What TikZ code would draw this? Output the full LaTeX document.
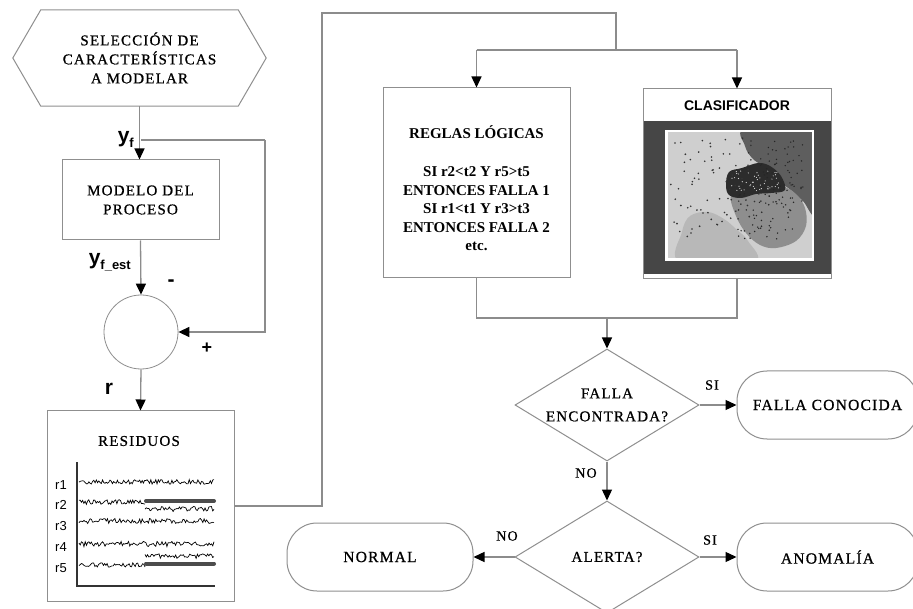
\documentclass[tikz,border=0pt]{standalone}
\usepackage{fontspec}
\setmainfont{Liberation Serif}
\setsansfont{Liberation Sans}
\newfontfamily\spc[LetterSpace=8,FakeBold=0.8]{Liberation Serif}
\usetikzlibrary{arrows.meta,shapes.geometric,calc}
\definecolor{ln}{HTML}{8C8C8C}
\definecolor{bd}{HTML}{8F8F8F}
\definecolor{darkbg}{HTML}{464646}
\definecolor{imgbg}{HTML}{CFCFCF}
\definecolor{regA}{HTML}{5E5E5E}
\definecolor{regB}{HTML}{2C2C2C}
\definecolor{regC}{HTML}{8E8E8E}
\definecolor{regD}{HTML}{B8B8B8}
\begin{document}
\begin{tikzpicture}[x=1pt,y=-1pt,
  line/.style={draw=ln,line width=1.3pt},
  arr/.style={line,-{Triangle[length=11pt,width=10pt,color=black]}},
  box/.style={draw=bd,line width=1pt,fill=white,inner sep=0pt,align=center},
  txt/.style={font=\spc\fontsize{15}{19}\selectfont,text=black,align=center,inner sep=0pt},
  rtxt/.style={font=\bfseries\fontsize{15}{18.5}\selectfont,text=black,align=center,inner sep=0pt},
  term/.style={box,rounded corners=30pt,minimum height=68pt,font=\spc\fontsize{15.5}{19}\selectfont},
  dia/.style={diamond,draw=bd,line width=1pt,fill=white,inner sep=0pt,aspect=1.64,
     minimum width=184pt,minimum height=112pt,align=center,font=\spc\fontsize{15}{23}\selectfont},
  lab/.style={font=\sffamily\bfseries\fontsize{21}{21}\selectfont,inner sep=0pt},
  yn/.style={font=\spc\fontsize{14}{14}\selectfont,inner sep=0pt},
  sig/.style={draw=black,line width=0.7pt},
  bar/.style={draw=black!70,line width=4pt,line cap=round}
]
\useasboundingbox (0,0) rectangle (913,609);
\fill[white] (0,0) rectangle (913,609);

% ---------- left column ----------
\node[txt,minimum width=253pt,minimum height=96pt] (hex) at (139.5,58) {SELECCIÓN DE\\CARACTERÍSTICAS\\A MODELAR};
\draw[bd,line width=1pt] (hex.west) -- ([xshift=28pt]hex.north west) -- ([xshift=-28pt]hex.north east)
  -- (hex.east) -- ([xshift=-28pt]hex.south east) -- ([xshift=28pt]hex.south west) -- cycle;

\node[box,minimum width=157pt,minimum height=80pt,font=\spc\fontsize{15}{19}\selectfont] (modelo) at (140.5,200) {MODELO DEL\\PROCESO};
\node[circle,draw=bd,line width=0.8pt,fill=white,minimum size=74pt,inner sep=0pt] (sum) at (141,332) {};
\node[box,minimum width=187pt,minimum height=190pt] (res) at (140.5,506) {};

\coordinate (fb) at (141,140);
\coordinate (fbR) at (265,140);
\draw[arr] (hex.south) -- (hex.south |- modelo.north);
\draw[line] (fb) -- (fbR);
\draw[arr] (fbR) |- (sum.east);
\draw[arr] (modelo.south) -- (sum.north);
\draw[arr] (sum.south) -- (res.north);

\node[lab,anchor=east] at (134,139) {y\raisebox{-5pt}{\fontsize{13}{13}\selectfont f}};
\node[lab,anchor=east] at (131,262) {y\raisebox{-5pt}{\fontsize{13}{13}\selectfont f\_est}};
\node[lab] at (171,283) {-};
\node[lab,font=\sffamily\bfseries\fontsize{18}{18}\selectfont] at (207,348) {+};
\node[lab] at (109,389) {r};

% residuos content
\node[txt] (restit) at (139,441) {RESIDUOS};
\draw[black!80,line width=1.3pt] (77,462) -- (77,586) -- (215,586);
\foreach \n/\yy in {1/485,2/505,3/526,4/547,5/568}
  \node[font=\sffamily\fontsize{13}{13}\selectfont,inner sep=0pt] at (61,\yy) {r\n};
\pgfmathsetseed{11}
\draw[sig] plot[domain=79:214,samples=110] (\x,{482+2.4*rand});
\draw[sig] plot[domain=79:145,samples=55] (\x,{502+2.4*rand});
\draw[sig] plot[domain=145:214,samples=55] (\x,{509+2.6*rand});
\draw[sig] plot[domain=79:214,samples=110] (\x,{521+2.5*rand});
\draw[sig] plot[domain=79:214,samples=110] (\x,{544+2.6*rand});
\draw[sig] plot[domain=79:145,samples=55] (\x,{565+2.2*rand});
\draw[sig] plot[domain=145:214,samples=55] (\x,{556+2.4*rand});
\draw[bar] (146,501) -- (214,501);
\draw[bar] (146,563.5) -- (214,563.5);

% ---------- top boxes ----------
\node[box,minimum width=187pt,minimum height=190pt] (reglas) at (476.5,183) {};
\node[rtxt] at (476.5,132) {REGLAS LÓGICAS};
\node[rtxt] at (476.5,209) {SI r2<t2 Y r5>t5\\ENTONCES FALLA 1\\SI r1<t1 Y r3>t3\\ENTONCES FALLA 2\\etc.};

\node[box,minimum width=188pt,minimum height=190pt] (clas) at (737,184) {};
\node[font=\sffamily\bfseries\fontsize{14}{14}\selectfont,inner sep=0pt] at (737,106) {CLASIFICADOR};
\fill[darkbg] (643.5,121) rectangle (830.5,274);
\fill[white] (665,130) rectangle (814,261);
\begin{scope}
  \clip (667,132) rectangle (812,259);
  \fill[imgbg] (667,132) rectangle (812,259);
  \fill[regD] plot[smooth cycle,tension=0.6] coordinates {(682,232) (690,216) (708,212) (724,219) (736,229) (748,241) (754,262) (680,262)};
  \fill[regA] plot[smooth cycle,tension=0.6] coordinates {(746,128) (745,146) (754,160) (768,168) (778,180) (792,191) (803,201) (816,212) (816,128)};
  \fill[regC] plot[smooth cycle,tension=0.6] coordinates {(731,196) (746,192) (762,189) (781,186) (796,194) (805,208) (806,226) (796,241) (776,248) (760,245) (746,233) (736,216)};
  \fill[regB] plot[smooth cycle,tension=0.6] coordinates {(726,185) (729,172) (742,168) (758,163) (770,166) (781,176) (785,190) (771,193) (756,194) (741,198) (729,195)};
  \pgfmathsetseed{5}
  \foreach \i in {1,...,80}{
    \pgfmathsetmacro\px{714+44*rand}
    \pgfmathsetmacro\py{188+50*rand}
    \fill[black!80] (\px,\py) circle (0.9pt);}
  \foreach \i in {1,...,60}{
    \pgfmathsetmacro\px{782+26*rand}
    \pgfmathsetmacro\py{172+32*rand}
    \fill[black!85] (\px,\py) circle (0.8pt);}
  \foreach \i in {1,...,50}{
    \pgfmathsetmacro\px{765+28*rand}
    \pgfmathsetmacro\py{215+24*rand}
    \fill[black!85] (\px,\py) circle (0.8pt);}
  \foreach \i in {1,...,50}{
    \pgfmathsetmacro\px{755+24*rand}
    \pgfmathsetmacro\py{181+10*rand}
    \fill[white!70!gray] (\px,\py) circle (0.6pt);}
\end{scope}
\draw[white,line width=1pt] (667,132) rectangle (812,259);

% ---------- routing from residuos ----------
\coordinate (c1) at (322,506);
\coordinate (c2) at (322,13);
\coordinate (c3) at (616,13);
\coordinate (c4) at (616,50);
\coordinate (sL) at (476.5,50);
\coordinate (sR) at (737,50);
\draw[line] (res.east) -- (c1) -- (c2) -- (c3) -- (c4);
\draw[line] (sL) -- (sR);
\draw[arr] (sL) -- (reglas.north);
\draw[arr] (sR) -- (clas.north);

% ---------- decisions ----------
\node[dia] (d1) at (607,405) {FALLA\\ENCONTRADA?};
\node[dia] (d2) at (607,557) {ALERTA?};
\node[term,minimum width=181pt] (fc) at (827.5,405) {FALLA CONOCIDA};
\node[term,minimum width=186pt] (norm) at (380,557) {NORMAL};
\node[term,minimum width=181pt] (anom) at (827.5,557) {ANOMALÍA};

\coordinate (j) at (607,318);
\draw[line] (reglas.south) |- (j);
\draw[line] (clas.south) |- (j);
\draw[arr] (j) -- (d1.north);
\draw[arr] (d1.east) -- (fc.west);
\draw[arr] (d1.south) -- (d2.north);
\draw[arr] (d2.west) -- (norm.east);
\draw[arr] (d2.east) -- (anom.west);

\node[yn] at (712,385) {SI};
\node[yn] at (586,473) {NO};
\node[yn] at (507,536) {NO};
\node[yn] at (710,540) {SI};
\end{tikzpicture}
\end{document}
